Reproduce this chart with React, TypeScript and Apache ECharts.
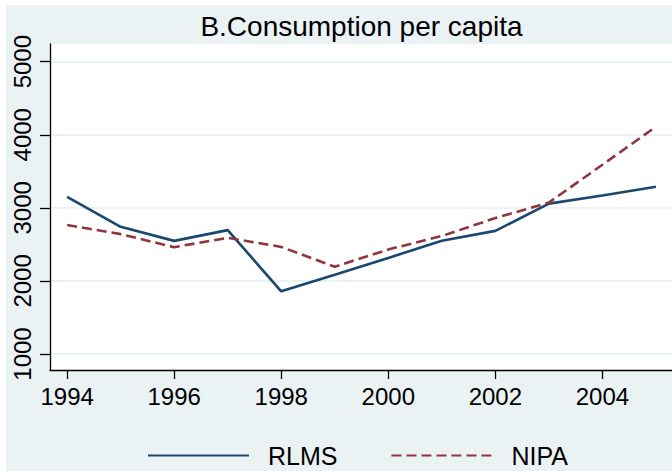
import React, { useEffect, useRef } from "react";
import * as echarts from "echarts";

const years = [1994, 1995, 1996, 1997, 1998, 1999, 2000, 2001, 2002, 2003, 2004, 2005];
const rlms = [3150, 2740, 2548, 2695, 1858, 2085, 2315, 2550, 2685, 3058, 3170, 3288];
const nipa = [2765, 2640, 2462, 2590, 2465, 2195, 2430, 2615, 2860, 3072, 3590, 4110];
const yTicks = [1000, 2000, 3000, 4000, 5000];
const xTicks = [1994, 1996, 1998, 2000, 2002, 2004];
const titleText = "B.Consumption per capita";
const seriesNames = ["RLMS", "NIPA"];

const FONT = "'Liberation Sans', Arial, sans-serif";
const BG = "#eaf2f3";

export default function App() {
  const ref = useRef<HTMLDivElement>(null);
  useEffect(() => {
    if (!ref.current) return;
    const chart = echarts.init(ref.current, null, { renderer: "svg" });
    chart.setOption({
      animation: false,
      backgroundColor: BG,
      textStyle: { fontFamily: FONT },
      graphic: [
        {
          type: "text",
          x: 355.5,
          y: 21,
          style: {
            text: titleText,
            font: `28px ${FONT}`,
            fill: "#000",
            textAlign: "center",
            textVerticalAlign: "middle",
          },
        },
      ],
      grid: {
        left: 44,
        top: 39,
        right: 0,
        bottom: 101,
        show: true,
        backgroundColor: "#fff",
        borderWidth: 0,
      },
      legend: {
        left: 136,
        top: 433,
        itemWidth: 101,
        itemHeight: 24,
        itemGap: 53,
        data: seriesNames,
        itemStyle: { opacity: 0 },
        textStyle: {
          fontFamily: FONT,
          fontSize: 25,
          color: "#000",
          padding: [0, 0, 0, 14],
        },
      },
      xAxis: {
        type: "value",
        min: 1993.68,
        max: 2005.3,
        axisLine: { show: true, onZero: false, lineStyle: { color: "#000", width: 1.3 } },
        axisTick: { show: true, length: 9, customValues: xTicks, lineStyle: { color: "#000", width: 1.3 } },
        axisLabel: {
          customValues: xTicks,
          formatter: (v: number) => String(v),
          fontSize: 24,
          color: "#000",
          margin: 14,
          fontFamily: FONT,
        },
        splitLine: { show: false },
      },
      yAxis: {
        type: "value",
        min: 781,
        max: 5242,
        axisLine: { show: true, onZero: false, lineStyle: { color: "#000", width: 1.3 } },
        axisTick: { show: true, length: 10, customValues: yTicks, lineStyle: { color: "#000", width: 1.3 } },
        axisLabel: {
          customValues: yTicks,
          formatter: (v: number) => String(v),
          fontSize: 24,
          color: "#000",
          rotate: 90,
          margin: 16,
          fontFamily: FONT,
        },
        splitLine: { show: true, lineStyle: { color: BG, width: 2 } },
      },
      series: [
        {
          name: seriesNames[0],
          type: "line",
          data: years.map((y, i) => [y, rlms[i]]),
          showSymbol: false,
          symbol: "none",
          lineStyle: { color: "#1a476f", width: 2.6 },
          itemStyle: { color: "#1a476f" },
        },
        {
          name: seriesNames[1],
          type: "line",
          data: years.map((y, i) => [y, nipa[i]]),
          showSymbol: false,
          symbol: "none",
          lineStyle: { color: "#90353b", width: 2.6, type: [10, 5] },
          itemStyle: { color: "#90353b" },
        },
      ],
    });
    return () => chart.dispose();
  }, []);
  return (
    <div style={{ position: "fixed", left: 0, top: 0, width: 672, height: 471, background: "#fff" }}>
      <div ref={ref} style={{ position: "absolute", left: 6, top: 5, width: 666, height: 466 }} />
    </div>
  );
}
